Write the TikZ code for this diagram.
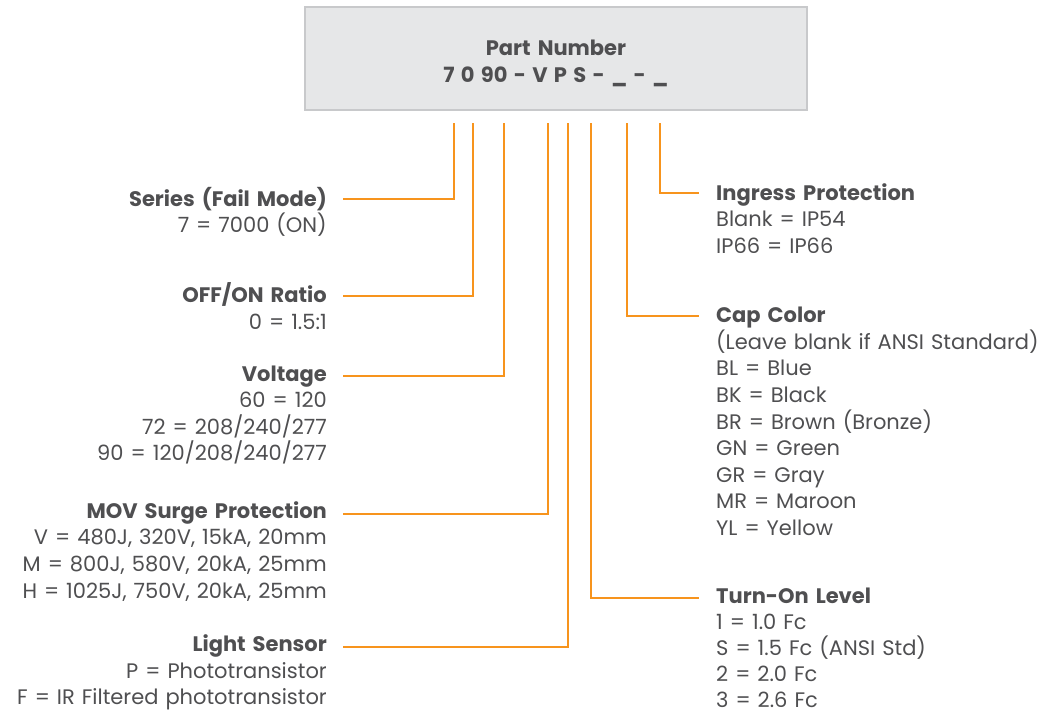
\documentclass[tikz,border=0pt]{standalone}
\usepackage{fontspec}
\setmainfont{Poppins}
\definecolor{org}{HTML}{F7941D}
\definecolor{txt}{HTML}{4F4F51}
\definecolor{boxfill}{HTML}{E6E7E8}
\definecolor{boxline}{HTML}{C8C9CB}
\begin{document}
\begin{tikzpicture}[x=1pt,y=-1pt,
  conn/.style={draw=org, line width=2pt},
  lbl/.style={text=txt, inner sep=0pt, font=\fontsize{21}{26.6}\selectfont, text width=345pt},
  lft/.style={lbl, align=right, anchor=base east},
  rgt/.style={lbl, align=left, anchor=base west}]
\useasboundingbox (0,0) rectangle (1046,712);
\node[draw=boxline, fill=boxfill, line width=1.2pt, minimum width=502pt, minimum height=103pt, inner sep=0pt] (pn) at (556,58.5) {};
\node[lbl, text width=480pt, align=center, anchor=base, font=\fontsize{21}{27.5}\selectfont\bfseries] (pnt) at (556,55) {Part Number\\{\spaceskip=0.3em 7 0 90 - V P S - \_ - \_}};

\node[lft] (ser) at (327,206) {\textbf{Series (Fail Mode)}\\7 = 7000 (ON)};
\node[lft] (rat) at (327,302.7) {\textbf{OFF/ON Ratio}\\0 = 1.5:1};
\node[lft] (vol) at (327,381) {\textbf{Voltage}\\60 = 120\\72 = 208/240/277\\90 = 120/208/240/277};
\node[lft] (mov) at (327,518.3) {\textbf{MOV Surge Protection}\\V = 480J, 320V, 15kA, 20mm\\M = 800J, 580V, 20kA, 25mm\\H = 1025J, 750V, 20kA, 25mm};
\node[lft] (ls) at (327,651.7) {\textbf{Light Sensor}\\P = Phototransistor\\F = IR Filtered phototransistor};

\node[rgt] (ip) at (716,200.3) {\textbf{Ingress Protection}\\Blank = IP54\\IP66 = IP66};
\node[rgt] (cap) at (716,322.7) {\textbf{Cap Color}\\(Leave blank if ANSI Standard)\\BL = Blue\\BK = Black\\BR = Brown (Bronze)\\GN = Green\\GR = Gray\\MR = Maroon\\YL = Yellow};
\node[rgt, font=\fontsize{21}{26}\selectfont] (ton) at (716,603.8) {\textbf{Turn-On Level}\\1 = 1.0 Fc\\S = 1.5 Fc (ANSI Std)\\2 = 2.0 Fc\\3 = 2.6 Fc};

\coordinate (v1) at (454,123);
\coordinate (v2) at (473,123);
\coordinate (v3) at (504,123);
\coordinate (v4) at (548,123);
\coordinate (v5) at (568,123);
\coordinate (v6) at (591,123);
\coordinate (v7) at (627,123);
\coordinate (v8) at (660,123);

\draw[conn] (v1) |- ([xshift=16pt,yshift=7pt]ser.base east);
\draw[conn] (v2) |- ([xshift=16pt,yshift=7pt]rat.base east);
\draw[conn] (v3) |- ([xshift=16pt,yshift=5pt]vol.base east);
\draw[conn] (v4) |- ([xshift=16pt,yshift=4pt]mov.base east);
\draw[conn] (v5) |- ([xshift=16pt,yshift=5pt]ls.base east);
\draw[conn] (v6) |- ([xshift=-17pt,yshift=5.5pt]ton.base west);
\draw[conn] (v7) |- ([xshift=-17pt,yshift=7pt]cap.base west);
\draw[conn] (v8) |- ([xshift=-17pt,yshift=7pt]ip.base west);
\end{tikzpicture}
\end{document}
